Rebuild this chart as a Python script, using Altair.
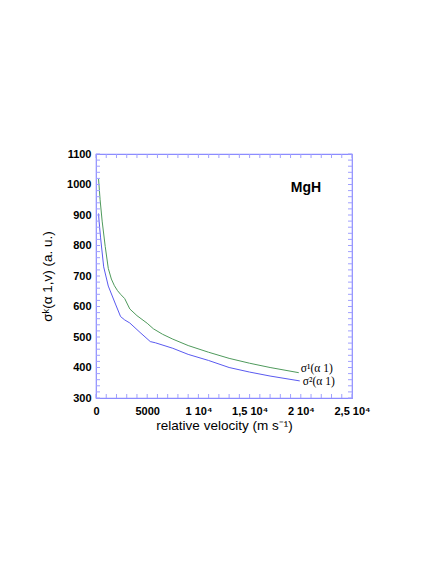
import altair as alt
import pandas as pd

# ---- data ----
v_sigma1 = [250, 400, 600, 900, 1200, 1500, 1800, 2100, 2400, 2800, 3300, 4000, 5000, 5600,
            6500, 7500, 9000, 11000, 13000, 15000, 17000, 19800]
sigma1 = [1018, 950, 880, 797, 725, 690, 668, 652, 640, 626, 592, 570, 545, 527,
          509, 493, 472, 450, 430, 414, 400, 383]

v_sigma2 = [250, 260, 300, 450, 750, 1200, 1900, 2400, 2800, 3300, 4300, 5300, 5800,
            7500, 9000, 11000, 13000, 15000, 17000, 19900]
sigma2 = [905, 900, 880, 825, 730, 667, 608, 567, 556, 546, 515, 485, 481,
          463, 443, 423, 400, 385, 372, 356]

series_names = ["σ¹(α 1)", "σ²(α 1)"]
series_colors = ["#4f9a5c", "#5a5af0"]

x_tick_values = [0, 5000, 10000, 15000, 20000, 25000]
x_tick_labels = ["0", "5000", "1 10⁴", "1,5 10⁴", "2 10⁴", "2,5 10⁴"]
y_tick_values = [300, 400, 500, 600, 700, 800, 900, 1000, 1100]
x_minor = list(range(0, 25001, 1000))
y_minor = list(range(300, 1101, 20))

annot_text = ["MgH"]
annot_v = [20500]
annot_s = [990]

# ---- tables ----
rows = []
for name, vs, ss in [(series_names[0], v_sigma1, sigma1), (series_names[1], v_sigma2, sigma2)]:
    for i, (a, b) in enumerate(zip(vs, ss)):
        rows.append({"series": name, "v": a, "s": b, "order": i})
df = pd.DataFrame(rows)
end1 = pd.DataFrame({"series": [series_names[0]], "v": [v_sigma1[-1]], "s": [sigma1[-1]]})
end2 = pd.DataFrame({"series": [series_names[1]], "v": [v_sigma2[-1]], "s": [sigma2[-1]]})

xt_df = pd.DataFrame({"v": x_minor})
yt_df = pd.DataFrame({"s": y_minor})
annot_df = pd.DataFrame({"t": annot_text, "v": annot_v, "s": annot_s})

W, H = 256, 244
frame = "#8c8cff"
tickc = "#a0a0ff"

xs = alt.Scale(domain=[0, 25000], nice=False, zero=False)
ys = alt.Scale(domain=[300, 1100], nice=False, zero=False)

label_expr = " : ".join(
    [f"datum.value == {v} ? '{l}'" for v, l in zip(x_tick_values, x_tick_labels)]
) + " : ''"

x_axis = alt.Axis(values=x_tick_values, labelExpr=label_expr, title="relative velocity (m s⁻¹)",
                  ticks=False, domain=False, grid=False, labelPadding=7, labelFlush=False,
                  labelOverlap=False, labelFont="Liberation Sans", labelFontWeight="bold",
                  labelFontSize=11, labelColor="#000", titleFont="Liberation Sans",
                  titleFontSize=13.5, titleFontWeight="normal", titleColor="#000", titlePadding=2)
y_axis = alt.Axis(values=y_tick_values, format="d", title="σᵏ(α 1,v) (a. u.)",
                  ticks=False, domain=False, grid=False, labelPadding=5, labelFlush=False,
                  labelOverlap=False, labelFont="Liberation Sans", labelFontWeight="bold",
                  labelFontSize=11, labelColor="#000", titleFont="Liberation Sans",
                  titleFontSize=13.5, titleFontWeight="normal", titleColor="#000", titlePadding=12)

X = lambda: alt.X("v:Q", scale=xs, axis=x_axis)
Y = lambda: alt.Y("s:Q", scale=ys, axis=y_axis)

color = alt.Color("series:N", scale=alt.Scale(domain=series_names, range=series_colors), legend=None)

lines = alt.Chart(df).mark_line(strokeWidth=1).encode(
    x=X(), y=Y(), color=color, detail="series:N", order="order:Q",
)

lab1 = alt.Chart(end1).mark_text(align="left", baseline="middle", dx=2, dy=-4,
                                 font="Liberation Serif", fontSize=11.5, color="#000").encode(
    x=X(), y=Y(), text="series:N")
lab2 = alt.Chart(end2).mark_text(align="left", baseline="middle", dx=3, dy=1,
                                 font="Liberation Serif", fontSize=11.5, color="#000").encode(
    x=X(), y=Y(), text="series:N")

annot = alt.Chart(annot_df).mark_text(font="Liberation Sans", fontWeight="bold", fontSize=14,
                                      color="#000", align="center", baseline="middle").encode(
    x=X(), y=Y(), text="t:N")

tick_len = 4
xb = alt.Chart(xt_df).mark_rule(color=tickc, strokeWidth=1).encode(
    x=X(), y=alt.value(H), y2=alt.value(H - tick_len))
xtop = alt.Chart(xt_df).mark_rule(color=tickc, strokeWidth=1).encode(
    x=X(), y=alt.value(0), y2=alt.value(tick_len))
yl = alt.Chart(yt_df).mark_rule(color=tickc, strokeWidth=1).encode(
    y=Y(), x=alt.value(0), x2=alt.value(tick_len))
yr = alt.Chart(yt_df).mark_rule(color=tickc, strokeWidth=1).encode(
    y=Y(), x=alt.value(W), x2=alt.value(W - tick_len))

chart = alt.layer(lines, xb, xtop, yl, yr, lab1, lab2, annot).properties(
    width=W, height=H,
    autosize=alt.AutoSizeParams(type="none"),
    padding={"left": 88, "top": 146, "right": 76, "bottom": 158},
    background="white",
).configure_view(stroke=frame, strokeWidth=1.2)

chart.save("out.html", embed_options={"renderer": "svg", "actions": False})
